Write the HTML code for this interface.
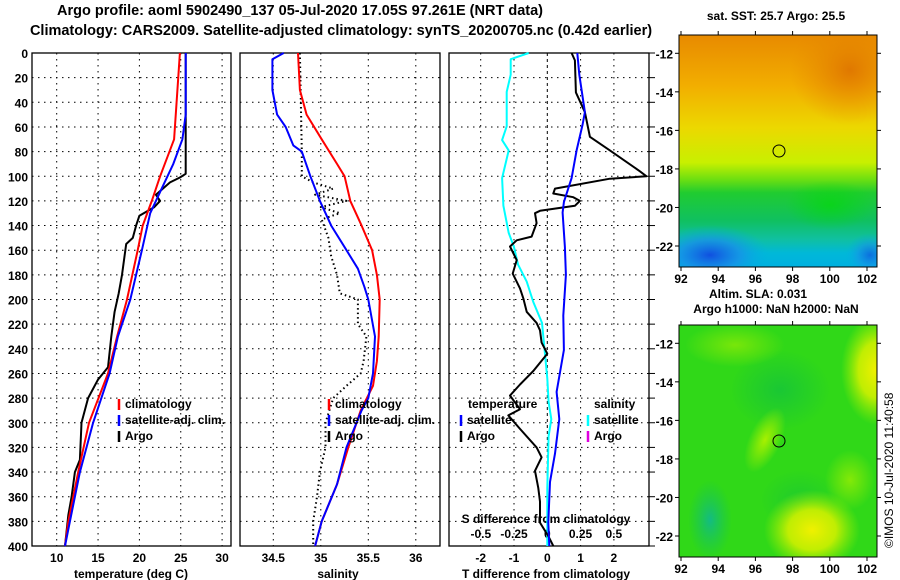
<!DOCTYPE html>
<html><head><meta charset="utf-8"><style>
body{margin:0;background:#fff;}
svg{display:block;font-family:"Liberation Sans",sans-serif;font-weight:bold;}
</style></head><body>
<svg id="c" width="900" height="580" viewBox="0 0 900 580" xmlns="http://www.w3.org/2000/svg">
<defs>
<linearGradient id="sstg" x1="0" y1="0" x2="0" y2="1">
<stop offset="0" stop-color="#e88a00"/><stop offset="0.22" stop-color="#f2ae00"/><stop offset="0.4" stop-color="#ecd800"/>
<stop offset="0.55" stop-color="#c8f000"/><stop offset="0.62" stop-color="#70e010"/><stop offset="0.68" stop-color="#20cc30"/>
<stop offset="0.8" stop-color="#10c060"/><stop offset="0.88" stop-color="#10c0a0"/><stop offset="0.94" stop-color="#00b8d8"/><stop offset="1" stop-color="#00b0e0"/>
</linearGradient>
<radialGradient id="blueblob"><stop offset="0" stop-color="#1050e0"/><stop offset="0.5" stop-color="#1890e8" stop-opacity="0.8"/><stop offset="1" stop-color="#00b0e0" stop-opacity="0"/></radialGradient>
<radialGradient id="orblob"><stop offset="0" stop-color="#e07800"/><stop offset="1" stop-color="#e88a00" stop-opacity="0"/></radialGradient>
<radialGradient id="grblob"><stop offset="0" stop-color="#00dc00"/><stop offset="1" stop-color="#00dc00" stop-opacity="0"/></radialGradient>
<radialGradient id="yblob"><stop offset="0" stop-color="#f0f000"/><stop offset="0.5" stop-color="#d0f000" stop-opacity="0.9"/><stop offset="1" stop-color="#a0f000" stop-opacity="0"/></radialGradient>
<radialGradient id="lgblob"><stop offset="0" stop-color="#a8f000"/><stop offset="1" stop-color="#a8f000" stop-opacity="0"/></radialGradient>
<radialGradient id="dgblob"><stop offset="0" stop-color="#10c040"/><stop offset="1" stop-color="#10c040" stop-opacity="0"/></radialGradient>
<radialGradient id="tealblob"><stop offset="0" stop-color="#10b890"/><stop offset="1" stop-color="#10c060" stop-opacity="0"/></radialGradient>
<clipPath id="m1c"><rect x="679" y="35" width="198" height="232"/></clipPath>
<clipPath id="m2c"><rect x="679" y="325" width="198" height="232"/></clipPath>
</defs>
<g id="titles" font-size="14.5">
<text x="300" y="15" text-anchor="middle">Argo profile: aoml 5902490_137 05-Jul-2020 17.05S 97.261E (NRT data)</text>
<text x="341" y="35" text-anchor="middle">Climatology: CARS2009. Satellite-adjusted climatology: synTS_20200705.nc (0.42d earlier)</text>
</g>
<g id="p1"></g><g id="p2"></g><g id="p3"></g>
<g id="maps">
<g clip-path="url(#m1c)">
<rect x="679" y="35" width="198" height="232" fill="url(#sstg)"/>
<ellipse cx="850" cy="70" rx="60" ry="55" fill="url(#orblob)"/>
<ellipse cx="830" cy="205" rx="45" ry="25" fill="url(#grblob)" opacity="0.6"/>
<ellipse cx="710" cy="255" rx="60" ry="30" fill="url(#blueblob)"/>
<ellipse cx="870" cy="255" rx="25" ry="22" fill="url(#blueblob)" opacity="0.7"/>
</g>
<rect x="679" y="35" width="198" height="232" fill="none" stroke="#000"/>
<circle cx="779" cy="151" r="6" fill="none" stroke="#000"/>
<g clip-path="url(#m2c)">
<rect x="679" y="325" width="198" height="232" fill="#30d818"/>
<ellipse cx="780" cy="390" rx="50" ry="40" fill="url(#dgblob)" opacity="0.7"/>
<ellipse cx="800" cy="500" rx="40" ry="30" fill="url(#dgblob)" opacity="0.5"/>
<ellipse cx="765" cy="440" rx="16" ry="35" fill="url(#lgblob)" transform="rotate(25 765 440)"/>
<ellipse cx="812" cy="530" rx="48" ry="40" fill="url(#yblob)"/>
<ellipse cx="876" cy="370" rx="35" ry="55" fill="url(#yblob)"/>
<ellipse cx="710" cy="520" rx="22" ry="40" fill="url(#tealblob)" opacity="0.9"/>
<ellipse cx="850" cy="480" rx="25" ry="30" fill="url(#lgblob)" opacity="0.7"/>
<ellipse cx="735" cy="345" rx="50" ry="22" fill="url(#lgblob)" opacity="0.6"/>
</g>
<rect x="679" y="325" width="198" height="232" fill="none" stroke="#000"/>
<circle cx="779" cy="441" r="6" fill="none" stroke="#000"/>
<g font-size="12">
<text x="776" y="20" text-anchor="middle">sat. SST: 25.7 Argo: 25.5</text>
<text x="758" y="298" text-anchor="middle">Altim. SLA: 0.031</text>
<text x="776" y="313" text-anchor="middle">Argo h1000: NaN h2000: NaN</text>
<text transform="translate(893,548) rotate(-90)" font-weight="normal" font-size="12">©IMOS 10-Jul-2020 11:40:58</text>
</g>
<g id="mapticks" font-size="12"></g>
</g>
</svg>
<script>
// ---------- data ----------
const depthTicks = [0,20,40,60,80,100,120,140,160,180,200,220,240,260,280,300,320,340,360,380,400];
const tempTicks = [10,15,20,25,30];
const salTicks = [34.5,35,35.5,36];
const dTTicks = [-2,-1,0,1,2];
const dSTicks = [-0.5,-0.25,0,0.25,0.5];
const lonTicks = [92,94,96,98,100,102];
const latTicks = [-12,-14,-16,-18,-20,-22];

const climTDepth = [0,70,100,120,140,160,200,230,260,300,340,380,400];
const climTVal   = [24.9,24.2,22.5,21.5,20.4,19.8,18.5,17.3,16.2,13.9,12.6,11.4,11.0];
const satTDepth  = [0,50,70,90,110,130,160,200,230,260,300,340,380,400];
const satTVal    = [25.6,25.6,25.2,24.1,22.7,21.3,20.3,18.9,17.4,16.4,14.4,12.8,11.6,11.0];
const argoTDepth = [0,98,101,105,115,120,125,132,140,150,155,165,180,195,210,230,255,265,280,300,330,340,360,375,400];
const argoTVal   = [25.6,25.6,24.9,23.7,22.0,22.5,21.8,20.0,19.6,19.2,18.4,18.2,17.9,17.5,17.0,16.6,16.2,15.0,13.8,13.0,12.8,12.2,11.8,11.4,11.0];

const climSDepth = [0,30,50,70,90,100,120,140,160,180,200,230,250,270,290,320,350,380,400];
const climSVal   = [34.76,34.78,34.85,35.01,35.17,35.25,35.31,35.43,35.54,35.59,35.62,35.61,35.59,35.55,35.42,35.29,35.17,35.01,34.94];
const satSDepth  = [0,5,30,50,60,75,80,100,120,140,160,175,190,200,230,260,280,290,320,350,380,400];
const satSVal    = [34.61,34.49,34.49,34.54,34.63,34.71,34.80,34.89,34.99,35.11,35.27,35.39,35.46,35.50,35.57,35.55,35.50,35.43,35.27,35.17,35.01,34.94];
const argoSDepth = [0,80,100,105,110,115,120,125,130,135,150,165,180,195,200,220,230,250,260,270,280,300,320,340,360,380,400];
const argoSVal   = [34.78,34.80,34.80,34.92,35.13,34.94,35.27,35.00,35.20,35.01,35.08,35.11,35.17,35.20,35.39,35.39,35.48,35.45,35.42,35.27,35.13,35.05,35.05,34.99,34.96,34.92,34.92];

const dTSatDepth = [0,17.6,48,58,79,101.5,121,129.5,157.5,180,213,241,275,297,325,348,381,400];
const dTSatVal   = [0.9,0.96,1.13,1.06,0.88,0.73,0.5,0.46,0.53,0.56,0.48,0.5,0.28,0.36,0.23,0.08,0.03,0.06];
const dTArgoDepth = [0,6,32,48,68,79,96,100,102,110,114,117,120,124,128,130,138,149,152,157,168,179,191,199,210,219,225,235,244,258,269,278,289,294,305,320,328,339,353,364,381,392,400];
const dTArgoVal   = [0.73,0.83,0.86,1.13,1.28,1.88,2.78,2.98,1.88,0.23,0.18,0.78,0.98,0.83,-0.22,-0.37,-0.32,-0.47,-0.92,-1.12,-0.92,-1.04,-0.82,-0.72,-0.62,-0.32,-0.22,-0.17,0,-0.42,-0.82,-1.12,-0.82,-1.17,-0.82,-0.32,-0.17,-0.37,-0.27,-0.22,-0.22,0.03,0.18];
const dSSatDepth = [0,5,17.6,31.6,59.5,70.7,79,101.5,124,146,157.5,171.5,185.5,202,219,241,264,283,297,311,353,400];
const dSSatVal   = [-0.14,-0.275,-0.275,-0.305,-0.305,-0.34,-0.29,-0.34,-0.33,-0.29,-0.25,-0.22,-0.155,-0.105,-0.04,-0.02,0,0.01,0.03,0.01,0,0];

// ---------- helpers ----------
const NS='http://www.w3.org/2000/svg';
function mk(parent,tag,attrs,txt){const e=document.createElementNS(NS,tag);for(const k in attrs)e.setAttribute(k,attrs[k]);if(txt!==undefined)e.textContent=txt;parent.appendChild(e);return e;}
const Y0=53, Y1=546;
const yD = d => Y0 + d*(Y1-Y0)/400;

function panel(g, x0, x1, xs, ticks, gridDash){
  depthTicks.forEach(d=>{ if(d>0&&d<400){ const l=mk(g,'line',{x1:x0,x2:x1,y1:yD(d),y2:yD(d),stroke:'#000','stroke-dasharray':'1.5,4.5'});
    
    }});
  ticks.forEach(t=>{ const x=xs(t); if(x>x0+1&&x<x1-1){ const l=mk(g,'line',{x1:x,x2:x,y1:Y0,y2:Y1,stroke:'#000','stroke-dasharray':gridDash&&gridDash(t)||'1.5,4.5'});
    
    }});
  const r=mk(g,'rect',{x:x0,y:Y0,width:x1-x0,height:Y1-Y0,fill:'none',stroke:'#000','stroke-width':1.3});
  
  
}
function line(g,xs,depths,vals,color,w,name,dash){
  const pts=depths.map((d,i)=>xs(vals[i]).toFixed(1)+','+yD(d).toFixed(1)).join(' ');
  const p=mk(g,'polyline',{points:pts,fill:'none',stroke:color,'stroke-width':w,'stroke-linejoin':'round'});
  if(dash)p.setAttribute('stroke-dasharray',dash);
  
  
}
function legend(g,x,y,color,label,name){
  const m=mk(g,'line',{x1:x,x2:x,y1:y-9,y2:y+2,stroke:color,'stroke-width':2.5});
  
  
  const t=mk(g,'text',{x:x+6,y:y,'font-size':12},label);
  
  
}

// ---------- panel 1: temperature ----------
const p1=document.getElementById('p1');
const xT = t => 56.7 + (t-10)*8.27;
panel(p1,32,231,xT,tempTicks);
depthTicks.forEach(d=>{const t=mk(p1,'text',{x:28,y:yD(d)+5,'text-anchor':'end','font-size':12},d);
  
  });
tempTicks.forEach(v=>{const t=mk(p1,'text',{x:xT(v),y:562,'text-anchor':'middle','font-size':12},v);
  
  });
{const t=mk(p1,'text',{x:131,y:578,'text-anchor':'middle','font-size':12},'temperature (deg C)');
  
  }
line(p1,xT,argoTDepth,argoTVal,'#000',2,'argo-temperature-line');
line(p1,xT,climTDepth,climTVal,'#f00',2,'climatology-temperature-line');
line(p1,xT,satTDepth,satTVal,'#00f',2,'satellite-temperature-line');
legend(p1,119,408,'#f00','climatology','legend-climatology');
legend(p1,119,424,'#00f','satellite-adj. clim.','legend-satellite-adj');
legend(p1,119,440,'#000','Argo','legend-argo');

// ---------- panel 2: salinity ----------
const p2=document.getElementById('p2');
const xS = s => 273.3 + (s-34.5)*95;
panel(p2,240,440,xS,salTicks);
salTicks.forEach(v=>{const t=mk(p2,'text',{x:xS(v),y:562,'text-anchor':'middle','font-size':12},v);
  
  });
{const t=mk(p2,'text',{x:338,y:578,'text-anchor':'middle','font-size':12},'salinity');
  
  }
line(p2,xS,argoSDepth,argoSVal,'#000',2,'argo-salinity-line','1.5,3');
line(p2,xS,climSDepth,climSVal,'#f00',2,'climatology-salinity-line');
line(p2,xS,satSDepth,satSVal,'#00f',2,'satellite-salinity-line');
legend(p2,329,408,'#f00','climatology','legend-climatology-s');
legend(p2,329,424,'#00f','satellite-adj. clim.','legend-satellite-adj-s');
legend(p2,329,440,'#000','Argo','legend-argo-s');

// ---------- panel 3: differences ----------
const p3=document.getElementById('p3');
const xDT = v => 547.3 + v*33.3;
const xDS = v => 547.3 + v*133;
panel(p3,449,649,xDT,dTTicks,t=>t===0?'3,3':null);
depthTicks.forEach(d=>{const l=mk(p3,'line',{x1:649,x2:655,y1:yD(d),y2:yD(d),stroke:'#000'});
  
  });
dTTicks.forEach(v=>{const t=mk(p3,'text',{x:xDT(v),y:562,'text-anchor':'middle','font-size':12},v);
  
  });
dSTicks.forEach(v=>{const t=mk(p3,'text',{x:xDS(v),y:538,'text-anchor':'middle','font-size':12},v);
  
  });
{const t=mk(p3,'text',{x:546,y:578,'text-anchor':'middle','font-size':12},'T difference from climatology');
  
  }
{const t=mk(p3,'text',{x:546,y:523,'text-anchor':'middle','font-size':12},'S difference from climatology');
  
  }
line(p3,xDS,dSSatDepth,dSSatVal,'#00ffff',2,'salinity-diff-satellite-line');
line(p3,xDT,dTArgoDepth,dTArgoVal,'#000',2,'temperature-diff-argo-line');
line(p3,xDT,dTSatDepth,dTSatVal,'#00f',2,'temperature-diff-satellite-line');
{const t=mk(p3,'text',{x:468,y:408,'font-size':12},'temperature');
  
  }
{const t=mk(p3,'text',{x:594,y:408,'font-size':12},'salinity');
  
  }
legend(p3,461,424,'#00f','satellite','legend-t-satellite');
legend(p3,461,440,'#000','Argo','legend-t-argo');
legend(p3,588,424,'#00ffff','satellite','legend-s-satellite');
legend(p3,588,440,'#e000e0','Argo','legend-s-argo');

// ---------- map ticks ----------
const mt=document.getElementById('mapticks');
const xLon = v => 681 + (v-92)*18.6;
[[35,267,53.3],[325,557,343.3]].forEach(([top,bot,lat12])=>{
  lonTicks.forEach(v=>{
    const x=xLon(v);
    const a=mk(mt,'line',{x1:x,x2:x,y1:bot,y2:bot+4,stroke:'#000'});
    
    
    const b=mk(mt,'line',{x1:x,x2:x,y1:top-4,y2:top,stroke:'#000'});
    
    
    const t=mk(mt,'text',{x:x,y:bot+16,'text-anchor':'middle'},v);
    
    
  });
  latTicks.forEach(v=>{
    const y=lat12 + (-12-v)*19.27;
    const a=mk(mt,'line',{x1:675,x2:679,y1:y,y2:y,stroke:'#000'});
    
    
    const b=mk(mt,'line',{x1:877,x2:881,y1:y,y2:y,stroke:'#000'});
    
    
    const t=mk(mt,'text',{x:673,y:y+5,'text-anchor':'end'},v);
    
    
  });
});
</script>
</body></html>
